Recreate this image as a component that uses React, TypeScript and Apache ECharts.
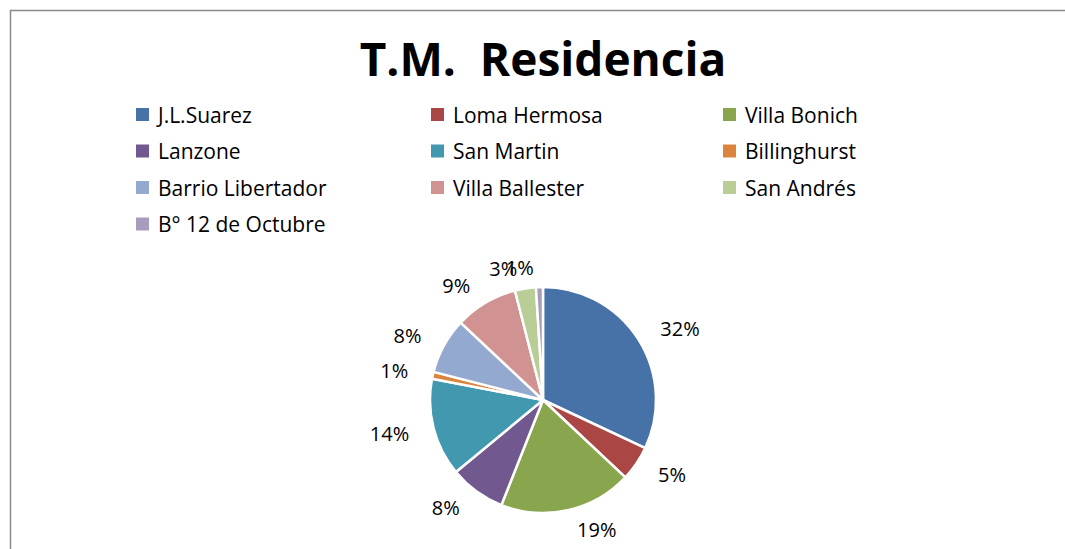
import React, { useEffect, useRef } from "react";
import * as echarts from "echarts";

const categories = [
  "J.L.Suarez",
  "Loma Hermosa",
  "Villa Bonich",
  "Lanzone",
  "San Martin",
  "Billinghurst",
  "Barrio Libertador",
  "Villa Ballester",
  "San Andrés",
  "B° 12 de Octubre",
];
const values = [32, 5, 19, 8, 14, 1, 8, 9, 3, 1];
const colors = [
  "#4672A8",
  "#AA4643",
  "#89A54E",
  "#71588F",
  "#4198AF",
  "#DB843D",
  "#93A9CF",
  "#D19392",
  "#B9CD96",
  "#A99BBD",
];
const legendCol1 = ["J.L.Suarez", "Lanzone", "Barrio Libertador", "B° 12 de Octubre"];
const legendCol2 = ["Loma Hermosa", "San Martin", "Villa Ballester"];
const legendCol3 = ["Villa Bonich", "Billinghurst", "San Andrés"];

const FONT = "'Open Sans', Lato, sans-serif";

export default function App() {
  const ref = useRef<HTMLDivElement>(null);
  useEffect(() => {
    if (!ref.current) return;
    const chart = echarts.init(ref.current, null, { renderer: "svg" });
    const legendBase = {
      orient: "vertical",
      top: 104,
      padding: 0,
      itemWidth: 15,
      itemHeight: 15,
      itemGap: 15.5,
      icon: "rect",
      selectedMode: false,
      textStyle: {
        fontFamily: FONT,
        fontSize: 21,
        lineHeight: 20,
        color: "#000",
        padding: [0, 0, 0, 3],
      },
    };
    chart.setOption({
      animation: false,
      backgroundColor: "#fff",
      color: colors,
      title: {
        text: "T.M.  Residencia",
        left: 538,
        textAlign: "center",
        top: 30,
        textStyle: {
          fontFamily: FONT,
          fontSize: 46,
          fontWeight: "bold",
          color: "#000",
        },
      },
      graphic: [
        {
          type: "rect",
          shape: { x: 10.5, y: 10.5, width: 1200, height: 700 },
          style: { fill: "none", stroke: "#8a8a8a", lineWidth: 1.5 },
          silent: true,
        },
      ],
      legend: [
        { ...legendBase, left: 134, data: legendCol1 },
        { ...legendBase, left: 429, data: legendCol2 },
        { ...legendBase, left: 721, data: legendCol3 },
      ],
      series: [
        {
          type: "pie",
          center: [543, 400],
          radius: 113,
          startAngle: 90,
          clockwise: true,
          avoidLabelOverlap: false,
          labelLayout: { hideOverlap: false },
          itemStyle: { borderColor: "#fff", borderWidth: 2.5 },
          label: {
            show: true,
            position: "outside",
            formatter: "{d}%",
            fontFamily: FONT,
            fontSize: 20,
            color: "#000",
          },
          labelLine: { show: false, length: 20, length2: 0 },
          emphasis: { disabled: true },
          data: categories.map((name, i) => ({ name, value: values[i] })),
        },
      ],
    });
    return () => chart.dispose();
  }, []);
  return (
    <div
      ref={ref}
      style={{ position: "fixed", left: 0, top: 0, width: 1065, height: 549 }}
    />
  );
}
